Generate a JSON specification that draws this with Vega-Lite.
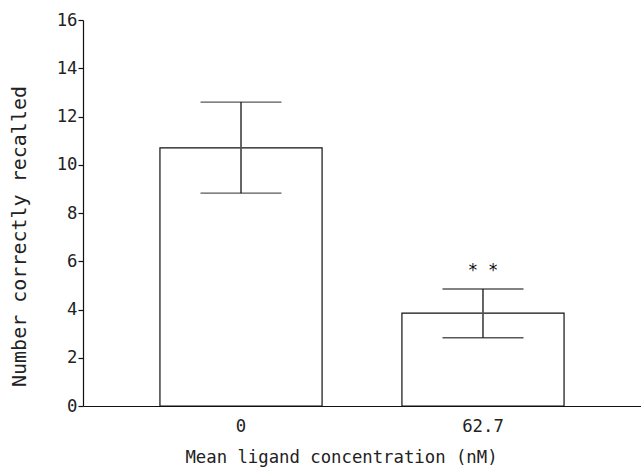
{
  "$schema": "https://vega.github.io/schema/vega-lite/v6.json",
  "autosize": "none",
  "padding": {"left": 83, "top": 20, "right": 0, "bottom": 66},
  "width": 558,
  "height": 386,
  "background": "white",
  "config": {
    "view": {"stroke": null},
    "font": "DejaVu Sans Mono",
    "axis": {
      "grid": false,
      "domainColor": "#111",
      "domainWidth": 1.2,
      "tickColor": "#111",
      "tickWidth": 1.2,
      "labelColor": "#222",
      "titleColor": "#222",
      "labelFont": "DejaVu Sans Mono",
      "titleFont": "DejaVu Sans Mono",
      "titleFontWeight": "normal"
    }
  },
  "data": {
    "values": [
      {"conc": "0", "mean": 10.7, "lower": 8.82, "upper": 12.6, "sig": ""},
      {"conc": "62.7", "mean": 3.85, "lower": 2.83, "upper": 4.85, "sig": "* *"}
    ]
  },
  "encoding": {
    "x": {
      "field": "conc",
      "type": "nominal",
      "sort": null,
      "scale": {"paddingInner": 0.33, "paddingOuter": 0.318},
      "axis": {
        "title": "Mean ligand concentration (nM)",
        "labelAngle": 0,
        "ticks": false,
        "labelFontSize": 17.3,
        "labelPadding": 11,
        "titleFontSize": 17.3,
        "titleX": 258,
        "titleY": 51,
        "titleBaseline": "middle",
        "titleAlign": "center"
      }
    }
  },
  "layer": [
    {
      "mark": {"type": "bar", "fill": "white", "stroke": "#111", "strokeWidth": 1.2},
      "encoding": {
        "y": {
          "field": "mean",
          "type": "quantitative",
          "scale": {"domain": [0, 16], "nice": false},
          "axis": {
            "title": "Number correctly recalled",
            "values": [0, 2, 4, 6, 8, 10, 12, 14, 16],
            "tickSize": 5,
            "labelFontSize": 17.3,
            "labelPadding": 1,
            "titleFontSize": 20,
            "titleX": -64,
            "titleY": 216,
            "titleBaseline": "middle",
            "titleAlign": "center",
            "titleAngle": -90
          }
        }
      }
    },
    {
      "mark": {"type": "rule", "color": "#555", "strokeWidth": 1.8},
      "encoding": {
        "y": {"field": "lower", "type": "quantitative"},
        "y2": {"field": "upper"}
      }
    },
    {
      "mark": {"type": "tick", "color": "#111", "thickness": 1.3, "size": 81, "orient": "horizontal"},
      "encoding": {"y": {"field": "lower", "type": "quantitative"}}
    },
    {
      "mark": {"type": "tick", "color": "#111", "thickness": 1.3, "size": 81, "orient": "horizontal"},
      "encoding": {"y": {"field": "upper", "type": "quantitative"}}
    },
    {
      "mark": {"type": "text", "fontSize": 17, "baseline": "middle", "color": "#111"},
      "encoding": {
        "y": {"datum": 5.6, "type": "quantitative"},
        "text": {"field": "sig"}
      }
    }
  ]
}
